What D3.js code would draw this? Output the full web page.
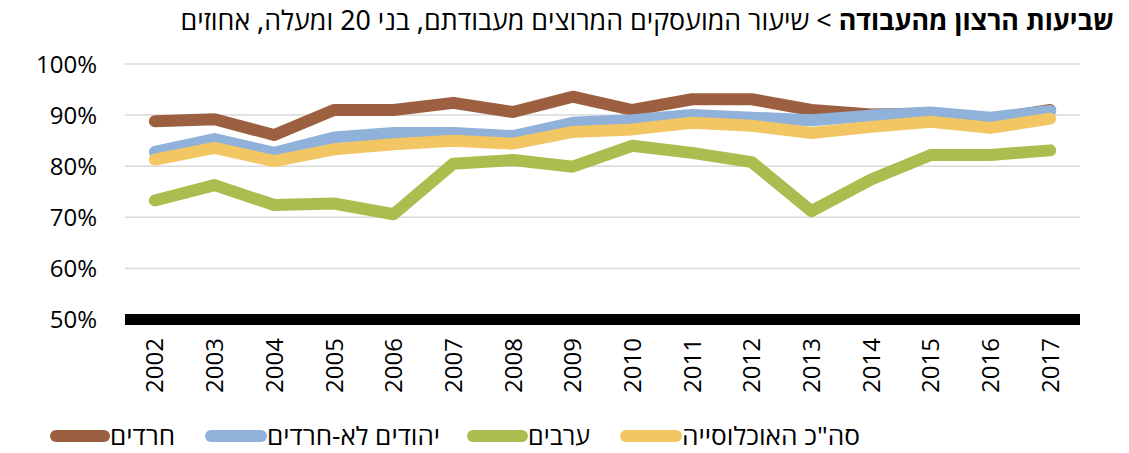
<!DOCTYPE html>
<html>
<head>
<meta charset="utf-8">
<script src="https://cdn.jsdelivr.net/npm/d3@7"></script>
<style>
  body { margin: 0; background: #fff; }
  svg { display: block; font-family: 'Open Sans', 'Noto Sans', sans-serif; }
</style>
</head>
<body>
<svg id="chart"></svg>
<script>
const years = ['2002', '2003', '2004', '2005', '2006', '2007', '2008', '2009', '2010', '2011', '2012', '2013', '2014', '2015', '2016', '2017']

const haredim = [88.8, 89.2, 86.1, 91.0, 91.0, 92.4, 90.6, 93.6, 91.0, 93.1, 93.1, 91.0, 90.1, 90.3, 89.2, 91.0]
const nonHaredi = [82.8, 85.3, 82.6, 85.6, 86.5, 86.5, 85.9, 88.5, 89.0, 90.0, 89.5, 89.0, 89.9, 90.5, 89.5, 90.8]
const arabs = [73.3, 76.3, 72.4, 72.7, 70.6, 80.5, 81.2, 79.9, 84.0, 82.6, 80.8, 71.2, 77.4, 82.2, 82.2, 83.1]
const total = [81.3, 83.6, 81.0, 83.3, 84.3, 85.0, 84.4, 86.7, 87.2, 88.5, 87.9, 86.5, 87.7, 88.7, 87.5, 89.3]

const seriesNames = ['חרדים', 'יהודים לא-חרדים', 'ערבים', 'סה"כ האוכלוסייה']
const yTicks = [50, 60, 70, 80, 90, 100]

const titleBold = 'שביעות הרצון מהעבודה'
const titleRest = ' > שיעור המועסקים המרוצים מעבודתם, בני 20 ומעלה, אחוזים'

const w = 1129
const h = 453
const colors = ['#9c6040', '#8fb1da', '#adbc4e', '#f2c663']

const series = [haredim, nonHaredi, arabs, total]

const svg = d3.select('#chart').attr('width', w).attr('height', h)

const x = d3.scaleBand().domain(years).range([125, 1080])
const y = d3.scaleLinear().domain([50, 100]).range([319.5, 64])

// gridlines
svg
  .append('g')
  .selectAll('line')
  .data(yTicks.filter((d) => d > 50))
  .join('line')
  .attr('x1', 125)
  .attr('x2', 1080)
  .attr('y1', (d) => y(d))
  .attr('y2', (d) => y(d))
  .attr('stroke', '#d9d9d9')
  .attr('stroke-width', 1.5)

// y labels
svg
  .append('g')
  .selectAll('text')
  .data(yTicks)
  .join('text')
  .attr('x', 97)
  .attr('y', (d) => y(d))
  .attr('dy', '0.36em')
  .attr('text-anchor', 'end')
  .style('font-size', '24px')
  .attr('fill', '#000')
  .text((d) => d + '%')

// x labels
svg
  .append('g')
  .selectAll('text')
  .data(years)
  .join('text')
  .attr('transform', (d) => `translate(${x(d) + x.bandwidth() / 2},338) rotate(-90)`)
  .attr('dy', '0.36em')
  .attr('text-anchor', 'end')
  .style('font-size', '24px')
  .attr('fill', '#000')
  .text((d) => d)

// lines
const line = d3
  .line()
  .x((d, i) => x(years[i]) + x.bandwidth() / 2)
  .y((d) => y(d))

svg
  .append('g')
  .selectAll('path')
  .data(series)
  .join('path')
  .attr('d', (d) => line(d))
  .attr('fill', 'none')
  .attr('stroke', (d, i) => colors[i])
  .attr('stroke-width', 12)
  .attr('stroke-linecap', 'round')
  .attr('stroke-linejoin', 'round')

// base axis bar
svg
  .append('rect')
  .attr('x', 125)
  .attr('width', 955)
  .attr('y', y(50) - 5.5)
  .attr('height', 11)
  .attr('fill', '#000')

// title
const title = svg
  .append('text')
  .attr('x', 1114)
  .attr('y', 30)
  .attr('direction', 'rtl')
  .attr('text-anchor', 'start')
  .style('font-family', "'Noto Sans', 'Open Sans', sans-serif")
  .style('font-size', '20px')
  .attr('fill', '#000')
title.append('tspan').attr('font-weight', 'bold').text(titleBold)
title.append('tspan').text(titleRest)
const tl = title.node().getComputedTextLength()
title.style('font-size', (20 * 934) / tl + 'px')

// legend
const legendItems = [
  { line: [50, 110], text: [110, 175] },
  { line: [205, 267], text: [267, 440] },
  { line: [467, 528], text: [528, 590] },
  { line: [620, 682], text: [682, 860] },
]

const legend = svg.append('g').selectAll('g').data(legendItems).join('g')

legend
  .append('line')
  .attr('x1', (d) => d.line[0] + 6)
  .attr('x2', (d) => d.line[1] - 6)
  .attr('y1', 436)
  .attr('y2', 436)
  .attr('stroke', (d, i) => colors[i])
  .attr('stroke-width', 12)
  .attr('stroke-linecap', 'round')

legend
  .append('text')
  .attr('x', (d) => d.text[1])
  .attr('y', 436)
  .attr('dy', '0.36em')
  .attr('direction', 'rtl')
  .attr('text-anchor', 'start')
  .attr('textLength', (d) => d.text[1] - d.text[0])
  .attr('lengthAdjust', 'spacingAndGlyphs')
  .style('font-family', "'Noto Sans', 'Open Sans', sans-serif")
  .style('font-size', '25px')
  .attr('fill', '#000')
  .text((d, i) => seriesNames[i])
</script>
</body>
</html>
